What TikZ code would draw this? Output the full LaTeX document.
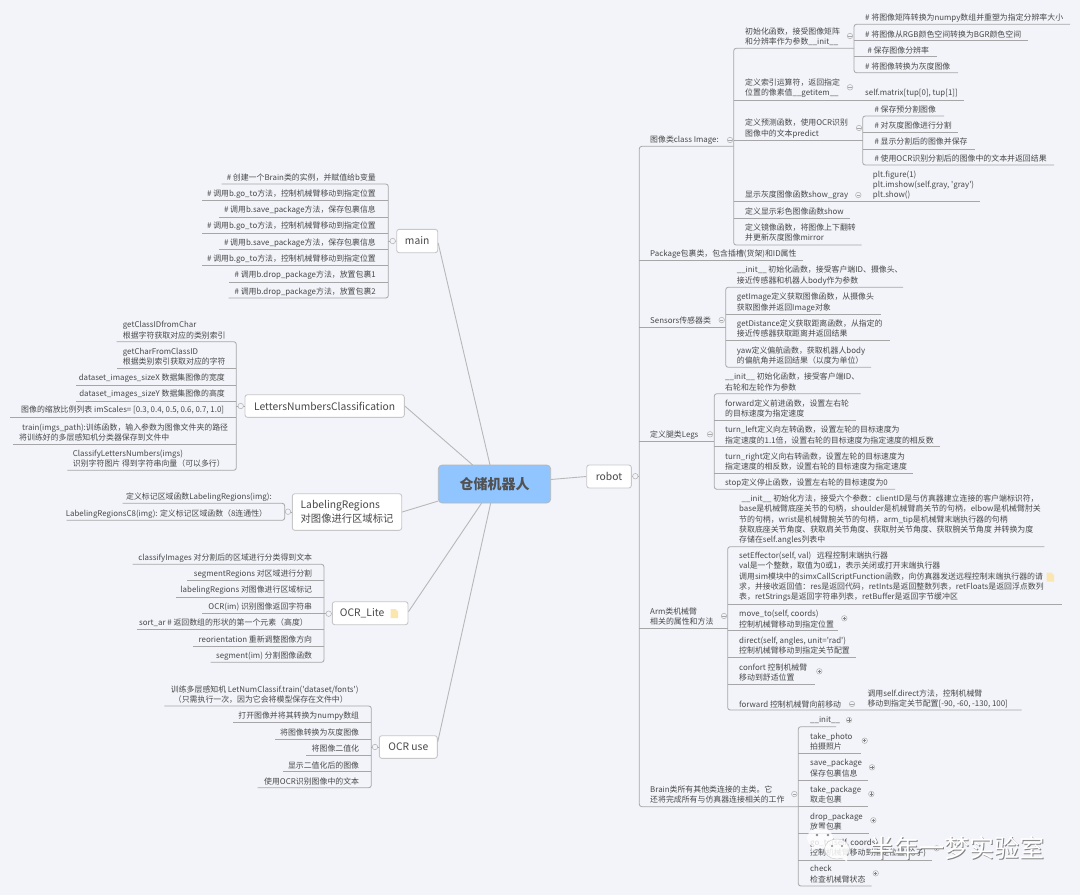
\documentclass[tikz,border=0pt]{standalone}
\usepackage{fontspec}
\setmainfont{Noto Sans CJK SC}[Ligatures=TeXOff]
\definecolor{paper}{HTML}{F2F4FA}
\definecolor{ink}{HTML}{484848}
\definecolor{wire}{HTML}{A6A6A6}
\definecolor{limb}{HTML}{B8B8B8}
\definecolor{rootblue}{HTML}{90C5FF}
\definecolor{notey}{HTML}{FBE6AE}
\newcommand\sq{\char39 }
\tikzset{
  lf/.style={anchor=west,align=left},
  rt/.style={anchor=east,align=right},
  leaftext/.style={inner sep=0pt,text=ink,font=\fontsize{7.9}{10.3}\selectfont},
  wirepath/.style={draw=wire,line width=0.8pt},
  railpath/.style={wirepath,rounded corners=2.5pt},
  limbpath/.style={draw=limb,line width=0.9pt},
  topic/.style={draw=black!22,fill=white,rounded corners=2.5pt,line width=0.9pt,inner sep=0pt,text=ink,
    font=\fontsize{10.3}{13.6}\selectfont},
  rootbox/.style={draw=black!28,fill=rootblue,rounded corners=4pt,line width=0.8pt,inner sep=0pt,text=black!68,
    font=\fontsize{14}{16}\selectfont\bfseries},
  togplain/.style={circle,draw=black!28,fill=paper,line width=0.6pt,minimum size=5.5pt,inner sep=0pt},
  togminus/.style={togplain,path picture={\draw[black!35,line width=0.5pt]
    ([xshift=-1.6pt]path picture bounding box.center) -- ([xshift=1.6pt]path picture bounding box.center);}},
  togplus/.style={togminus,path picture={\draw[black!50,line width=0.5pt]
    ([xshift=-1.6pt]path picture bounding box.center) -- ([xshift=1.6pt]path picture bounding box.center)
    ([yshift=-1.6pt]path picture bounding box.center) -- ([yshift=1.6pt]path picture bounding box.center);}},
  markw/.style={inner sep=0pt,font=\fontsize{25}{25}\selectfont},
}
% one text with its underline: style, name, text x, text y, text, rail x, free end x, underline y
\newcommand\mmleaf[8]{%
  \node[leaftext,#1] (#2) at (#3,#4) {#5};
  \coordinate (#2-a) at (#6,#8);
  \coordinate (#2-b) at (#7,#8);
}
% a rail with rounded ends joining the underlines of the first, middle and last child
\newcommand\mmrail[3]{%
  \draw[railpath] (#1-b) -- (#1-a) -- (#3-a) -- (#3-b);
  \foreach \mmid in {#2}{\draw[wirepath] (\mmid-a) -- (\mmid-b);}
}
\newcommand\noteicon[2]{%
  \fill[notey] (#1-3.5,#2-4.5) -- ++(5,0) -- ++(2.5,2.5) -- ++(0,6.5) -- ++(-7.5,0) -- cycle;
}
\begin{document}
\begin{tikzpicture}[x=1pt,y=-1pt]
\useasboundingbox (0,0) rectangle (1080,895);
\fill[paper] (0,0) rectangle (1080,895);

% central topic and its branches
\node[rootbox,minimum width=112.4pt,minimum height=38pt] (root) at (494.5,484) {仓储机器人};
\coordinate (rootMain) at (490,465);
\coordinate (rootLetters) at (472.7,465);
\coordinate (rootLabel) at (438.3,501);
\coordinate (rootLite) at (481.7,503);
\coordinate (rootUse) at (490.7,503);
\coordinate (rootRobot) at (550.7,479.5);

\node[topic,minimum width=41pt,minimum height=23.4pt] (main) at (417.2,241) {main};
\node[topic,minimum width=159.3pt,minimum height=22.6pt] (letters) at (324.65,406) {LettersNumbersClassification};
\node[topic,minimum width=109.4pt,minimum height=36.6pt,align=left] (label) at (347,512) {LabelingRegions\\对图像进行区域标记};
\node[topic,minimum width=75.7pt,minimum height=23pt] (lite) at (370.15,613.2) {OCR\_Lite\hspace{16pt}\null};
\node[topic,minimum width=58pt,minimum height=22.6pt] (use) at (408.3,747) {OCR use};
\node[topic,minimum width=44.6pt,minimum height=23pt] (robot) at (609,476.5) {robot};
\noteicon{394}{613.5}

\draw[limbpath] (rootMain) -- ([yshift=-2pt]main.east);
\draw[limbpath] (rootLetters) -- (letters.east);
\draw[limbpath] (rootLabel) -- (label.east);
\draw[limbpath] (rootLite) -- ([yshift=1.5pt]lite.east);
\draw[limbpath] (rootUse) -- ([yshift=5.3pt]use.east);
\draw[limbpath] (rootRobot) -- (robot.west);

% robot: first level
\mmleaf{lf}{img}{650}{140}{图像类class Image:}{639.3}{733.7}{146.3}
\mmleaf{lf}{pkg}{650}{254.3}{Package包裹类，包含插槽(货架)和ID属性}{639.3}{803}{260.7}
\mmleaf{lf}{sens}{650}{320.3}{Sensors传感器类}{639.3}{725.7}{327.7}
\mmleaf{lf}{legs}{650}{435}{定义腿类Legs}{639.3}{714.3}{441.7}
\mmleaf{lf}{arm}{650}{616.5}{Arm类机械臂\\相关的属性和方法}{639.3}{727.7}{628.3}
\mmleaf{lf}{brain}{650}{794.5}{Brain类所有其他类连接的主类。它\\还将完成所有与仿真器连接相关的工作}{639.3}{798.3}{806.7}
\mmrail{img}{pkg,sens,legs,arm}{brain}
\draw[wirepath] (robot.east) -- (robot.east -| img-a);
\node[togplain] (tRobot) at (635.3,476.2) {};

% Image class
\mmleaf{lf}{iInit}{745}{37}{初始化函数，接受图像矩阵\\和分辨率作为参数\_\_init\_\_}{733.7}{854}{48.3}
\mmleaf{lf}{iItem}{745}{88}{定义索引运算符，返回指定\\位置的像素值\_\_getitem\_\_}{733.7}{964}{100}
\mmleaf{lf}{iPred}{745}{128.5}{定义预测函数，使用OCR识别\\图像中的文本predict}{733.7}{862.7}{140.3}
\mmleaf{lf}{iGray}{745}{195.3}{显示灰度图像函数show\_gray}{733.7}{980}{201.7}
\mmleaf{lf}{iShow}{745}{211.3}{定义显示彩色图像函数show}{733.7}{850}{218}
\mmleaf{lf}{iMirror}{745}{232.7}{定义镜像函数，将图像上下翻转\\并更新灰度图像mirror}{733.7}{861.7}{245}
\mmrail{iInit}{iItem,iPred,iGray,iShow}{iMirror}

\mmleaf{lf}{a1}{865}{17.7}{\# 将图像矩阵转换为numpy数组并重塑为指定分辨率大小}{854}{1070}{24.3}
\mmleaf{lf}{a2}{865}{34}{\# 将图像从RGB颜色空间转换为BGR颜色空间}{854}{1028}{40.7}
\mmleaf{lf}{a3}{867.3}{50}{\# 保存图像分辨率}{854}{936.7}{56.7}
\mmleaf{lf}{a4}{865}{66}{\# 将图像转换为灰度图像}{854}{958}{72.7}
\mmrail{a1}{a2,a3}{a4}

\node[leaftext,lf] (matrix) at (865,93.3) {self.matrix[tup[0], tup[1]]};

\mmleaf{lf}{b1}{874.3}{109}{\# 保存预分割图像}{862.7}{944}{116}
\mmleaf{lf}{b2}{874.3}{125.3}{\# 对灰度图像进行分割}{862.7}{958}{132.7}
\mmleaf{lf}{b3}{874.3}{141.7}{\# 显示分割后的图像并保存}{862.7}{975}{149}
\mmleaf{lf}{b4}{874.3}{158}{\# 使用OCR识别分割后的图像中的文本并返回结果}{862.7}{1054}{165}
\mmrail{b1}{b2,b3}{b4}

\node[leaftext,lf] (plt) at (872.7,185) {plt.figure(1)\\plt.imshow(self.gray, \sq gray\sq)\\plt.show()};

\node[togminus] (tImg) at (730,140) {};
\node[togminus] (tInit) at (850,36) {};
\node[togminus] (tItem) at (850,87.3) {};
\node[togminus] (tPred) at (859,128) {};
\node[togminus] (tGray) at (858.3,195) {};

% Sensors class
\mmleaf{lf}{s1}{736.7}{275.7}{\_\_init\_\_ 初始化函数，接受客户端ID、摄像头、\\接近传感器和机器人body作为参数}{725.7}{903}{287.3}
\mmleaf{lf}{s2}{736.7}{302.5}{getImage定义获取图像函数，从摄像头\\获取图像并返回Image对象}{725.7}{880.7}{314}
\mmleaf{lf}{s3}{736.7}{328.8}{getDistance定义获取距离函数，从指定的\\接近传感器获取距离并返回结果}{725.7}{890}{340.3}
\mmleaf{lf}{s4}{736.7}{355.5}{yaw定义偏航函数，获取机器人body\\的偏航角并返回结果（以度为单位）}{725.7}{871}{367.3}
\mmrail{s1}{s2,s3}{s4}
\node[togminus] (tSens) at (721.7,320) {};

% Legs class
\mmleaf{lf}{g1}{725}{382}{\_\_init\_\_ 初始化函数，接受客户端ID、\\右轮和左轮作为参数}{714.3}{860.7}{393.7}
\mmleaf{lf}{g2}{725}{408.5}{forward定义前进函数，设置左右轮\\的目标速度为指定速度}{714.3}{855.7}{420.3}
\mmleaf{lf}{g3}{725}{435}{turn\_left定义向左转函数，设置左轮的目标速度为\\指定速度的1.1倍，设置右轮的目标速度为指定速度的相反数}{714.3}{940}{446.7}
\mmleaf{lf}{g4}{725}{461.7}{turn\_right定义向右转函数，设置左轮的目标速度为\\指定速度的相反数，设置右轮的目标速度为指定速度}{714.3}{912.7}{473.3}
\mmleaf{lf}{g5}{725}{483.3}{stop定义停止函数，设置左右轮的目标速度为0}{714.3}{895}{489.3}
\mmrail{g1}{g2,g3,g4}{g5}
\node[togminus] (tLegs) at (710,434.3) {};

% Arm class
\mmleaf{lf}{r1}{739}{519.8}{\hspace*{2.5pt}\_\_init\_\_ 初始化方法，接受六个参数：clientID是与仿真器建立连接的客户端标识符，\\base是机械臂底座关节的句柄，shoulder是机械臂肩关节的句柄，elbow是机械臂肘关\\节的句柄，wrist是机械臂腕关节的句柄，arm\_tip是机械臂末端执行器的句柄\\获取底座关节角度、获取肩关节角度、获取肘关节角度、获取腕关节角度 并转换为度\\存储在self.angles列表中}{727.7}{1044.3}{546.7}
\mmleaf{lf}{r2}{739}{576.8}{setEffector(self, val)\hspace{4pt} 远程控制末端执行器\\val是一个整数，取值为0或1，表示关闭或打开末端执行器\\调用sim模块中的simxCallScriptFunction函数，向仿真器发送远程控制末端执行器的请\\求，并接收返回值：res是返回代码，retInts是返回整数列表，retFloats是返回浮点数列\\表，retStrings是返回字符串列表，retBuffer是返回字节缓冲区}{727.7}{1062.3}{604.3}
\mmleaf{lf}{r3}{739}{619.2}{move\_to(self, coords)\\控制机械臂移动到指定位置}{727.7}{838}{630.7}
\mmleaf{lf}{r4}{739}{645.8}{direct(self, angles, unit=\sq rad\sq)\\控制机械臂移动到指定关节配置}{727.7}{856}{657.3}
\mmleaf{lf}{r5}{739}{672.3}{confort 控制机械臂\\移动到舒适位置}{727.7}{815}{684}
\mmleaf{lf}{r6}{739}{704}{forward 控制机械臂向前移动}{727.7}{1021.7}{710}
\mmrail{r1}{r2,r3,r4,r5}{r6}
\node[leaftext,lf] (armCfg) at (867.3,698.8) {调用self.direct方法，控制机械臂\\移动到指定关节配置[-90, -60, -130, 100]};
\noteicon{1050}{577}
\node[togminus] (tArm) at (724,616) {};
\node[togplus] (tMove) at (844.3,618.3) {};
\node[togplus] (tConf) at (819.3,671.3) {};
\node[togminus] (tForw) at (852,704) {};

% Brain class
\mmleaf{lf}{n1}{810}{720.3}{\_\_init\_\_}{798.3}{836}{726.7}
\mmleaf{lf}{n2}{810}{741.7}{take\_photo\\拍摄照片}{798.3}{860.7}{753.3}
\mmleaf{lf}{n3}{810}{768.3}{save\_package\\保存包裹信息}{798.3}{868}{780}
\mmleaf{lf}{n4}{810}{795}{take\_package\\取走包裹}{798.3}{868}{806.7}
\mmleaf{lf}{n5}{810}{821.7}{drop\_package\\放置包裹}{798.3}{869}{833.3}
\mmleaf{lf}{n6}{810}{848.3}{go\_to(self, coords)\\控制机械臂移动到指定位置(轮子)}{798.3}{931.7}{860}
\mmleaf{lf}{n7}{810}{874.3}{check\\检查机械臂状态}{798.3}{871.7}{886}
\mmrail{n1}{n2,n3,n4,n5,n6}{n7}
\node[togminus] (tBrain) at (794.3,794) {};
\node[togplus] (tN1) at (849,720) {};
\node[togplus] (tN2) at (864.7,740.7) {};
\node[togplus] (tN3) at (872,767.3) {};
\node[togplus] (tN4) at (871.3,794) {};
\node[togplus] (tN5) at (873.3,820.3) {};
\node[togplus] (tN6) at (936.7,848.3) {};
\node[togplus] (tN7) at (875.7,873.3) {};

% main
\mmleaf{rt}{m1}{376}{177.3}{\# 创建一个Brain类的实例，并赋值给b变量}{388.3}{221.7}{184}
\mmleaf{rt}{m2}{376}{193.7}{\# 调用b.go\_to方法，控制机械臂移动到指定位置}{388.3}{201.7}{200.3}
\mmleaf{rt}{m3}{376}{210}{\# 调用b.save\_package方法，保存包裹信息}{388.3}{219.3}{217.3}
\mmleaf{rt}{m4}{376}{226.3}{\# 调用b.go\_to方法，控制机械臂移动到指定位置}{388.3}{201.7}{233.3}
\mmleaf{rt}{m5}{376}{242.7}{\# 调用b.save\_package方法，保存包裹信息}{388.3}{219.3}{249.3}
\mmleaf{rt}{m6}{376}{258.7}{\# 调用b.go\_to方法，控制机械臂移动到指定位置}{388.3}{201.7}{265.7}
\mmleaf{rt}{m7}{376}{275.3}{\# 调用b.drop\_package方法，放置包裹1}{388.3}{228.7}{282}
\mmleaf{rt}{m8}{376}{291.7}{\# 调用b.drop\_package方法，放置包裹2}{388.3}{228.7}{298}
\mmrail{m1}{m2,m3,m4,m5,m6,m7}{m8}
\draw[wirepath] (main.west) -- (main.west -| m1-a);
\node[togplain] (tMain) at (392.7,241) {};

% LettersNumbersClassification
\mmleaf{lf}{c1}{122.7}{330}{getClassIDfromChar\\根据字符获取对应的类别索引}{236.3}{116.7}{341.7}
\mmleaf{lf}{c2}{122.7}{356.5}{getCharFromClassID\\根据类别索引获取对应的字符}{236.3}{116.7}{368.7}
\mmleaf{rt}{c3}{225}{378}{dataset\_images\_sizeX 数据集图像的宽度}{236.3}{75.7}{385}
\mmleaf{rt}{c4}{225}{394.3}{dataset\_images\_sizeY 数据集图像的高度}{236.3}{75.7}{401.3}
\mmleaf{rt}{c5}{224.3}{410.3}{图像的缩放比例列表 imScales= [0.3, 0.4, 0.5, 0.6, 0.7, 1.0]}{236.3}{10}{417.3}
\mmleaf{lf}{c6}{19}{432.2}{\hspace*{3pt}train(imgs\_path):训练函数，输入参数为图像文件夹的路径\\将训练好的多层感知机分类器保存到文件中}{236.3}{13.3}{444.3}
\mmleaf{lf}{c7}{72.7}{458.3}{ClassifyLettersNumbers(imgs)\\识别字符图片 得到字符串向量（可以多行）}{236.3}{67.3}{470.3}
\mmrail{c1}{c2,c3,c4,c5,c6}{c7}
\draw[wirepath] (letters.west) -- (letters.west -| c1-a);
\node[togplain] (tLetters) at (240.7,406) {};

% LabelingRegions
\mmleaf{rt}{l1}{272}{497.3}{定义标记区域函数LabelingRegions(img):}{284.7}{122.7}{503.3}
\mmleaf{rt}{l2}{267.3}{514}{LabelingRegionsC8(img): 定义标记区域函数（8连通性）}{284.7}{66.7}{520.3}
\mmrail{l1}{}{l2}
\draw[wirepath] (label.west) -- (label.west -| l1-a);
\node[togplain] (tLabel) at (288,511.7) {};

% OCR_Lite
\mmleaf{rt}{o1}{312.3}{558}{classifyImages 对分割后的区域进行分类得到文本}{324}{132.7}{564.3}
\mmleaf{rt}{o2}{312.3}{574.3}{segmentRegions 对区域进行分割}{324}{187.3}{580.7}
\mmleaf{rt}{o3}{312.3}{590.3}{labelingRegions 对图像进行区域标记}{324}{176}{597.3}
\mmleaf{rt}{o4}{312.3}{606.7}{OCR(im) 识别图像返回字符串}{324}{202.3}{613.3}
\mmleaf{rt}{o5}{308}{623}{sort\_ar \# 返回数组的形状的第一个元素（高度）}{324}{137.3}{629.3}
\mmleaf{rt}{o6}{312.3}{639.3}{reorientation 重新调整图像方向}{324}{193.3}{646}
\mmleaf{rt}{o7}{312.3}{655.7}{segment(im) 分割图像函数}{324}{210.7}{662.3}
\mmrail{o1}{o2,o3,o4,o5,o6}{o7}
\draw[wirepath] (lite.west) -- (lite.west -| o1-a);
\node[togplain] (tLite) at (328.7,613.7) {};

% OCR use
\mmleaf{lf}{u1}{170.7}{694.7}{训练多层感知机 LetNumClassif.train(\sq dataset/fonts\sq)\\\hspace*{3pt}（只需执行一次，因为它会将模型保存在文件中）}{371.3}{164.3}{706}
\mmleaf{rt}{u2}{359.3}{716}{打开图像并将其转换为numpy数组}{371.3}{232.7}{722.7}
\mmleaf{rt}{u3}{359.3}{732}{将图像转换为灰度图像}{371.3}{275}{739}
\mmleaf{rt}{u4}{359.3}{748.7}{将图像二值化}{371.3}{306}{755.3}
\mmleaf{rt}{u5}{359.3}{765}{显示二值化后的图像}{371.3}{283.3}{771.3}
\mmleaf{rt}{u6}{359.3}{781.3}{使用OCR识别图像中的文本}{371.3}{257.7}{787.7}
\mmrail{u1}{u2,u3,u4,u5}{u6}
\draw[wirepath] (use.west) -- (use.west -| u1-a);
\node[togplain] (tUse) at (375,747) {};

% account mark over the lower corner
\fill[white,opacity=0.8] (820,838) ellipse [x radius=13pt,y radius=10pt];
\fill[white,opacity=0.8] (812,846) -- (811,852) -- (818,848) -- cycle;
\fill[black!45] (817,835) circle (1.3pt) (828,835) circle (1.3pt);
\draw[black!25,fill=white,opacity=0.85] (837,849) ellipse [x radius=12.5pt,y radius=10pt];
\fill[white,opacity=0.85] (842,857) -- (847,862) -- (847,855) -- cycle;
\fill[black!45] (832,846) circle (1.1pt) (842,846) circle (1.1pt);
\node[markw,text=black!48] (markShade) at (957.8,848.8) {半年一梦实验室};
\node[markw,text=white] (markFace) at (957.2,848.2) {半年一梦实验室};
\end{tikzpicture}
\end{document}
